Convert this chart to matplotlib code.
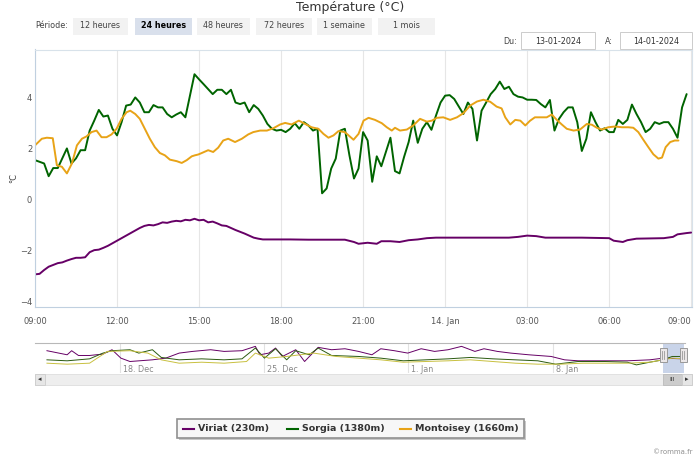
import numpy as np
import matplotlib.pyplot as plt
from matplotlib.patches import Rectangle

plt.rcParams['font.family'] = ['DejaVu Sans']

W, H = 700, 462

title = 'Température (°C)'
periods = ['12 heures', '24 heures', '48 heures', '72 heures', '1 semaine', '1 mois']
selected_period = '24 heures'
date_from = '13-01-2024'
date_to = '14-01-2024'

hour_ticks = [0, 3, 6, 9, 12, 15, 18, 21, 24]
hour_labels = ['09:00', '12:00', '15:00', '18:00', '21:00', '14. Jan', '03:00', '06:00', '09:00']
temp_ticks = [-4, -2, 0, 2, 4]

names = ['Viriat (230m)', 'Sorgia (1380m)', 'Montoisey (1660m)']
colors = ['#660066', '#006400', '#e8a317']

# minutes after 13-01 09:00, temperature
viriat = [(0, -2.92), (10, -2.90), (20, -2.75), (30, -2.62), (40, -2.55), (50, -2.48),
          (60, -2.45), (70, -2.38), (80, -2.32), (90, -2.27), (100, -2.27), (110, -2.25),
          (120, -2.05), (130, -1.97), (140, -1.95), (150, -1.88), (160, -1.80), (170, -1.70),
          (180, -1.60), (190, -1.50), (200, -1.40), (210, -1.30), (220, -1.20), (230, -1.10),
          (240, -1.02), (250, -0.98), (260, -1.00), (270, -0.95), (280, -0.88), (290, -0.90),
          (300, -0.85), (310, -0.82), (320, -0.84), (330, -0.78), (340, -0.80), (350, -0.74),
          (360, -0.80), (370, -0.78), (380, -0.88), (390, -0.85), (400, -0.92), (410, -1.00),
          (420, -1.02), (430, -1.10), (440, -1.18), (450, -1.25), (460, -1.32), (470, -1.40),
          (480, -1.48), (490, -1.52), (500, -1.55), (520, -1.55), (560, -1.55), (600, -1.56),
          (640, -1.56), (680, -1.56), (700, -1.65), (710, -1.72), (730, -1.68), (750, -1.72),
          (760, -1.62), (780, -1.62), (800, -1.65), (820, -1.58), (840, -1.55), (860, -1.50),
          (880, -1.48), (900, -1.48), (1040, -1.48), (1060, -1.45), (1080, -1.40), (1100, -1.42),
          (1120, -1.48), (1200, -1.48), (1260, -1.50), (1270, -1.60), (1290, -1.65), (1300, -1.58),
          (1320, -1.52), (1380, -1.50), (1400, -1.45), (1410, -1.35), (1430, -1.30), (1440, -1.28)]

sorgia = [(0, 1.56), (20, 1.43), (30, 0.93), (40, 1.25), (50, 1.25), (70, 2.02), (80, 1.43),
          (90, 1.63), (100, 1.95), (110, 1.95), (120, 2.72), (130, 3.11), (140, 3.53), (150, 3.27),
          (160, 3.31), (170, 2.79), (180, 2.53), (190, 3.05), (200, 3.70), (210, 3.74), (220, 4.02),
          (230, 3.82), (240, 3.44), (250, 3.44), (260, 3.72), (270, 3.63), (280, 3.63), (290, 3.37),
          (300, 3.24), (310, 3.35), (320, 3.44), (330, 3.24), (350, 4.93), (360, 4.73), (370, 4.54),
          (390, 4.15), (400, 4.32), (410, 4.32), (420, 4.15), (430, 4.32), (440, 3.82), (450, 3.76),
          (460, 3.82), (470, 3.44), (480, 3.72), (490, 3.57), (500, 3.31), (510, 2.98), (520, 2.79),
          (530, 2.72), (540, 2.75), (550, 2.66), (560, 2.79), (570, 3.01), (580, 2.79), (590, 3.05),
          (600, 2.92), (610, 2.72), (620, 2.79), (630, 0.26), (640, 0.45), (650, 1.23), (660, 1.62),
          (670, 2.72), (680, 2.79), (690, 1.75), (700, 0.84), (710, 1.23), (720, 2.66), (730, 2.33),
          (740, 0.71), (750, 1.71), (760, 1.32), (780, 2.44), (790, 1.13), (800, 1.04), (810, 1.69),
          (820, 2.27), (830, 3.11), (840, 2.24), (850, 2.79), (860, 3.05), (870, 2.75), (880, 3.31),
          (890, 3.82), (900, 4.09), (910, 4.11), (920, 3.96), (940, 3.37), (950, 3.82), (960, 3.57),
          (970, 2.33), (980, 3.50), (990, 3.82), (1000, 4.15), (1010, 4.35), (1020, 4.64),
          (1030, 4.35), (1040, 4.44), (1050, 4.15), (1060, 4.05), (1070, 4.02), (1080, 3.93),
          (1090, 3.93), (1100, 3.92), (1110, 3.76), (1120, 3.63), (1130, 3.92), (1140, 2.72),
          (1150, 3.18), (1160, 3.44), (1170, 3.63), (1180, 3.63), (1190, 3.05), (1200, 1.92),
          (1210, 2.40), (1220, 3.44), (1230, 3.05), (1240, 2.72), (1250, 2.81), (1260, 2.66),
          (1270, 2.66), (1280, 3.14), (1290, 2.98), (1300, 3.14), (1310, 3.74), (1320, 3.37),
          (1330, 3.05), (1340, 2.66), (1350, 2.79), (1360, 3.05), (1370, 2.98), (1380, 3.05),
          (1390, 3.05), (1400, 2.79), (1410, 2.44), (1420, 3.63), (1430, 4.15)]

montoisey = [(0, 2.14), (15, 2.40), (26, 2.44), (39, 2.42), (48, 1.36), (59, 1.30), (70, 1.04),
             (81, 1.43), (92, 2.14), (103, 2.40), (113, 2.49), (124, 2.66), (135, 2.72), (146, 2.46),
             (157, 2.46), (168, 2.57), (179, 2.79), (190, 3.18), (201, 3.44), (209, 3.50), (220, 3.37),
             (230, 3.18), (241, 2.79), (252, 2.40), (263, 2.07), (274, 1.84), (285, 1.75), (296, 1.58),
             (311, 1.52), (322, 1.45), (333, 1.56), (344, 1.71), (351, 1.75), (358, 1.78), (366, 1.84),
             (380, 1.95), (391, 1.88), (402, 2.05), (413, 2.33), (424, 2.40), (439, 2.27), (454, 2.40),
             (468, 2.57), (479, 2.66), (494, 2.72), (509, 2.72), (523, 2.81), (538, 2.96), (549, 3.02),
             (563, 2.96), (579, 3.11), (593, 2.98), (607, 2.85), (622, 2.79), (633, 2.59), (644, 2.44),
             (655, 2.53), (666, 2.70), (680, 2.66), (699, 2.36), (710, 2.59), (721, 3.11), (732, 3.22),
             (746, 3.14), (761, 3.01), (772, 2.85), (783, 2.72), (790, 2.83), (801, 2.72), (816, 2.76),
             (830, 2.92), (845, 3.18), (860, 3.07), (871, 3.11), (882, 3.22), (896, 3.24), (911, 3.14),
             (926, 3.24), (940, 3.40), (955, 3.70), (970, 3.86), (984, 3.93), (999, 3.85), (1013, 3.66),
             (1024, 3.59), (1032, 3.24), (1043, 2.96), (1054, 3.14), (1065, 3.11), (1076, 2.92),
             (1086, 3.10), (1097, 3.24), (1112, 3.24), (1123, 3.24), (1134, 3.35), (1145, 3.14),
             (1156, 2.96), (1167, 2.79), (1182, 2.72), (1196, 2.76), (1211, 2.98), (1222, 2.95),
             (1233, 2.83), (1244, 2.76), (1258, 2.85), (1273, 2.88), (1288, 2.85), (1302, 2.85),
             (1313, 2.83), (1324, 2.66), (1335, 2.36), (1346, 2.07), (1357, 1.79), (1368, 1.62),
             (1376, 1.66), (1384, 2.07), (1394, 2.27), (1404, 2.33), (1412, 2.33)]

# navigator: days after 18 Dec 00:00, temperature
nav_viriat = [(-3.55, 6.5), (-2.57, 3.6), (-2.35, 6.5), (-2.02, 3.1), (-1.48, 3.1), (-0.83, 4.1),
              (-0.39, 7.2), (0.04, 1.2), (0.48, -1.2), (1.57, 0.0), (2.22, 1.2), (2.87, 4.8),
              (3.52, 6.0), (4.40, 7.2), (5.05, 6.0), (5.92, 6.5), (6.57, 9.6), (6.79, 3.6),
              (7.22, 4.8), (7.55, 8.4), (7.88, 2.4), (8.53, 7.2), (8.96, -1.2), (9.62, 8.9),
              (10.27, 7.2), (10.92, 7.9), (11.58, 6.0), (12.23, 3.6), (12.66, 7.9), (13.32, 6.5),
              (13.97, 4.8), (14.62, 7.9), (15.27, 6.0), (15.93, 7.2), (16.58, 9.6), (17.23, 6.0),
              (17.67, 7.9), (18.32, 6.0), (18.97, 4.8), (19.84, 3.6), (20.93, 2.4), (21.58, 0.0),
              (22.24, -0.7), (23.54, -0.7), (24.63, -0.7), (25.72, 0.0), (26.37, 1.2), (27.37, 0.7)]
nav_sorgia = [(-3.55, 0.0), (-2.57, -0.7), (-1.48, 0.7), (-0.83, 4.8), (-0.39, 6.5), (0.48, 7.2),
              (0.91, 4.8), (1.57, 7.2), (2.00, 1.7), (2.87, 0.0), (3.96, 0.7), (5.05, 0.0),
              (5.92, 0.7), (6.57, 8.4), (7.01, 1.2), (7.55, 7.9), (8.09, 0.0), (8.53, 6.5),
              (9.18, 3.6), (9.62, 8.4), (10.27, 3.1), (11.58, 2.4), (12.66, 1.2), (13.75, -0.7),
              (14.84, 0.0), (15.93, 0.7), (17.01, 1.7), (18.10, 0.7), (19.19, 0.0), (20.28, -0.7),
              (21.15, -3.1), (22.24, -1.2), (23.54, -1.2), (24.63, -1.7), (25.07, -3.6),
              (25.72, -1.7), (26.37, 0.0), (26.81, 2.4), (27.37, 2.4)]
nav_montoisey = [(-3.55, -2.4), (-2.57, -3.1), (-1.48, -2.4), (-0.61, 6.0), (0.48, 6.5), (1.35, 4.8),
                 (2.00, 0.0), (2.87, -2.4), (3.96, -1.7), (5.05, -2.4), (6.14, -1.2), (6.57, 4.8),
                 (7.22, 1.2), (8.09, 2.4), (9.40, 4.8), (10.49, 2.4), (11.58, 1.2), (12.66, 0.0),
                 (13.75, -1.7), (14.84, -1.2), (15.93, -0.7), (17.01, 0.0), (18.10, -1.2),
                 (19.19, -2.4), (20.28, -3.1), (21.37, -3.1), (22.46, -2.4), (24.63, -2.4),
                 (25.72, -1.7), (26.81, 1.2), (27.37, 0.7)]
nav_ticks = [0, 7, 14, 21]
nav_labels = ['18. Dec', '25. Dec', '1. Jan', '8. Jan']
nav_window = (26.37, 27.37)


def box(x0, y0, x1, y1):
    # pixel box (top-left origin) -> figure fraction rect
    return [x0 / W, 1 - y1 / H, (x1 - x0) / W, (y1 - y0) / H]


def fpt(x, y):
    return x / W, 1 - y / H


fig = plt.figure(figsize=(W / 100, H / 100), dpi=100)
fig.patch.set_facecolor('white')

# title + period buttons
fig.text(*fpt(350, 8), title, ha='center', va='center', fontsize=9, color='#333333')
fig.text(*fpt(35, 26), 'Période:', ha='left', va='center', fontsize=5.8, color='#444444')
btn_x = [(72.7, 128), (135, 191.7), (196.7, 250), (256, 311.7), (316.7, 371.7), (378, 435)]
for (x0, x1), p in zip(btn_x, periods):
    sel = p == selected_period
    r = Rectangle(fpt(x0, 35), (x1 - x0) / W, 17 / H, transform=fig.transFigure,
                  facecolor='#d9e0ec' if sel else '#f2f2f2', edgecolor='none')
    fig.patches.append(r)
    fig.text(*fpt((x0 + x1) / 2, 26), p, ha='center', va='center', fontsize=5.8,
             color='#000000' if sel else '#444444', fontweight='bold' if sel else 'normal')

# date inputs
fig.text(*fpt(517, 41), 'Du:', ha='right', va='center', fontsize=5.8, color='#444444')
fig.text(*fpt(613, 41), 'A:', ha='right', va='center', fontsize=5.8, color='#444444')
for (x0, x1), d in zip([(521, 595), (620, 692)], [date_from, date_to]):
    r = Rectangle(fpt(x0, 48.5), (x1 - x0) / W, 16 / H, transform=fig.transFigure,
                  facecolor='white', edgecolor='#cccccc', lw=0.7)
    fig.patches.append(r)
    fig.text(*fpt((x0 + x1) / 2, 41), d, ha='center', va='center', fontsize=5.8, color='#333333')

# main chart
ax = fig.add_axes(box(35, 49.5, 692, 307))
series = [viriat, sorgia, montoisey]
for data, c in zip(series, colors):
    t = np.array([p[0] for p in data]) / 60.0
    v = np.array([p[1] for p in data])
    ax.plot(t, v, color=c, lw=1.4, solid_joinstyle='round', solid_capstyle='round')

ax.set_xlim(0, 24.03)
ax.set_ylim(-4.2, 5.9)
ax.set_xticks(hour_ticks)
ax.set_xticklabels(hour_labels)
ax.get_xticklabels()[-1].set_horizontalalignment('right')
ax.set_yticks(temp_ticks)
ax.tick_params(axis='x', length=0, pad=7, labelsize=6, labelcolor='#555555')
ax.tick_params(axis='y', length=0, pad=2, labelsize=6, labelcolor='#555555')
ax.grid(axis='x', color='#e6e6e6', lw=0.8)
ax.set_axisbelow(True)
for s in ['left', 'bottom']:
    ax.spines[s].set_color('#c0d0e0')
for s in ['top', 'right']:
    ax.spines[s].set_color('#d8e2ea')
for s in ax.spines.values():
    s.set_linewidth(0.8)
fig.text(*fpt(14, 178), '°C', rotation=90, ha='center', va='center', fontsize=6, color='#444444')

# navigator
nav = fig.add_axes(box(35, 343, 685, 373))
for data, c in zip([nav_viriat, nav_sorgia, nav_montoisey], ['#660066', '#2a5a10', '#c8c040']):
    nav.plot([p[0] for p in data], [p[1] for p in data], color=c, lw=0.7)
nav.set_xlim(-4.13, 27.43)
nav.set_ylim(-9.4, 12)
nav.set_xticks(nav_ticks)
nav.set_yticks([])
nav.tick_params(axis='x', length=0, labelbottom=False)
nav.grid(axis='x', color='#e2e2e2', lw=0.8)
nav.set_axisbelow(True)
for d, lab in zip(nav_ticks, nav_labels):
    nav.text(d + 0.15, -6.6, lab, fontsize=5.8, color='#888888', ha='left', va='center')
for s in ['left', 'right', 'bottom']:
    nav.spines[s].set_visible(False)
nav.spines['top'].set_color('#b8b8b8')
nav.spines['top'].set_linewidth(0.8)
nav.axvspan(nav_window[0], nav_window[1], color=(102 / 255, 133 / 255, 194 / 255), alpha=0.35, lw=0)

# navigator handles
for hx in [663, 683]:
    r = Rectangle(fpt(hx - 3.5, 362), 7 / W, 14 / H, transform=fig.transFigure,
                  facecolor='#ebe7e8', edgecolor='#999999', lw=0.7, zorder=5)
    fig.patches.append(r)
    for dx in [-1, 1]:
        fig.lines.append(plt.Line2D([(hx + dx) / W] * 2, [1 - 351 / H, 1 - 359 / H],
                                    transform=fig.transFigure, color='#999999', lw=0.6, zorder=6))

# scrollbar
track = Rectangle(fpt(35, 385), 657 / W, 11 / H, transform=fig.transFigure,
                  facecolor='#eeeeee', edgecolor='#dddddd', lw=0.6)
fig.patches.append(track)
thumb = Rectangle(fpt(663, 385), 19 / W, 11 / H, transform=fig.transFigure,
                  facecolor='#cccccc', edgecolor='#bbbbbb', lw=0.6)
fig.patches.append(thumb)
for bx0, sym in [(35, '◂'), (682, '▸')]:
    b = Rectangle(fpt(bx0, 385), 10 / W, 11 / H, transform=fig.transFigure,
                  facecolor='#e6e6e6', edgecolor='#cccccc', lw=0.6)
    fig.patches.append(b)
    fig.text(*fpt(bx0 + 5, 379.5), sym, ha='center', va='center', fontsize=5, color='#333333')
fig.text(*fpt(672.5, 379.5), 'III', ha='center', va='center', fontsize=4.5, color='#333333')

# legend
shadow = Rectangle(fpt(178.5, 439.5), 347 / W, 19 / H, transform=fig.transFigure,
                   facecolor='#c8c8c8', edgecolor='none')
fig.patches.append(shadow)
leg = Rectangle(fpt(177, 438), 347 / W, 19 / H, transform=fig.transFigure,
                facecolor='#f7f7f7', edgecolor='#909090', lw=1.2)
fig.patches.append(leg)
for lx, name, c in zip([183, 287, 400], names, colors):
    fig.lines.append(plt.Line2D([lx / W, (lx + 11) / W], [1 - 428.5 / H] * 2,
                                transform=fig.transFigure, color=c, lw=1.5))
    fig.text(*fpt(lx + 15, 428.5), name, ha='left', va='center', fontsize=6.8,
             fontweight='bold', color='#333333')

fig.text(*fpt(692, 452), '©romma.fr', ha='right', va='center', fontsize=5, color='#909090')

fig.savefig('out.png', dpi=100)
